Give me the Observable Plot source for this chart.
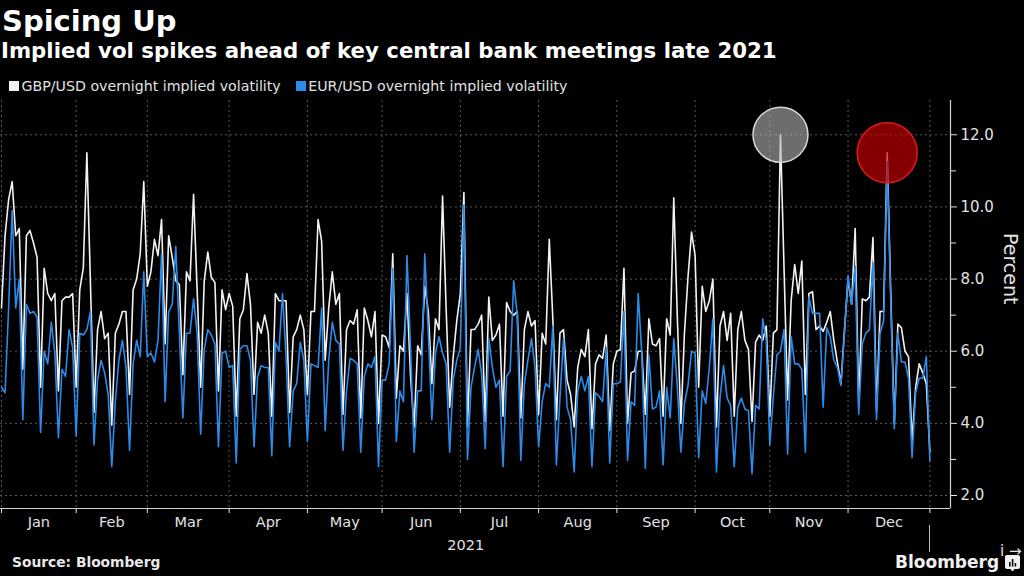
<!DOCTYPE html>
<html>
<head>
<meta charset="utf-8">
<script src="https://cdn.jsdelivr.net/npm/d3@7"></script>
<script src="https://cdn.jsdelivr.net/npm/@observablehq/plot@0.6"></script>
<style>
  html, body { margin: 0; padding: 0; background: #000; }
  body { width: 1024px; height: 576px; overflow: hidden; position: relative; color: #fff;
         font-family: "DejaVu Sans", sans-serif; }
  .abs { position: absolute; line-height: 1; white-space: nowrap; }
  #title { left: 2px; top: 7px; font-size: 29px; font-weight: bold; }
  #subtitle { left: 1px; top: 40px; font-size: 21.3px; font-weight: bold; }
  .lg { font-size: 14.2px; color: #e0e0e0; top: 79px; }
  .sw { position: absolute; width: 10px; height: 10px; top: 81px; }
  #chart { position: absolute; left: 0; top: 95px; }
  #source { left: 12px; top: 556px; font-size: 13.8px; font-weight: bold; color: #e8e8e8; }
  #brand { left: 895px; top: 554px; font-size: 17px; font-weight: bold; color: #f0f0f0; }
  #icon { position: absolute; left: 1005px; top: 555px; }
  #lastline { position: absolute; left: 929px; top: 525px; width: 1px; height: 27px; background: #bbb; }
</style>
</head>
<body>
<div id="title" class="abs"></div>
<div id="subtitle" class="abs"></div>
<div id="legend"></div>
<div id="chart"></div>
<div id="lastline"></div>
<div id="source" class="abs"></div>
<div id="brand" class="abs"></div>
<svg id="icon" width="15" height="17" viewBox="0 0 15 17"><rect x="0" y="0" width="15" height="14" rx="2" fill="#f0f0f0"/><path d="M5.5 14 L7.5 16.5 L9.5 14 Z" fill="#f0f0f0"/><rect x="4" y="7" width="1.6" height="4.5" fill="#000"/><rect x="6.8" y="4" width="1.6" height="7.5" fill="#000"/><rect x="9.6" y="8" width="1.6" height="3.5" fill="#000"/></svg>
<script>
// ---------- Text ----------
const titleText = "Spicing Up";
const subtitleText = "Implied vol spikes ahead of key central bank meetings late 2021";
const seriesNames = ["GBP/USD overnight implied volatility", "EUR/USD overnight implied volatility"];
const seriesColors = ["#f2f2f2", "#2a8be8"];
const sourceText = "Source: Bloomberg";
const brandText = "Bloomberg";
const yLabel = "Percent";
const yearLabel = "2021";

// ---------- Axis definitions ----------
const months = ["Jan","Feb","Mar","Apr","May","Jun","Jul","Aug","Sep","Oct","Nov","Dec"];
// trading-day index at which each month starts (last = end of December)
const monthStarts = [0, 21, 41, 64, 86, 107, 129, 151, 173, 195, 216, 238, 261];
const yTicks = [2, 4, 6, 8, 10, 12];
const yMinor = [3, 5, 7, 9, 11];

// ---------- Data (daily, trading days of 2021) ----------
const gbp = [
  7.2, 9.2, 10.2, 10.7, 9.2, 9.4, 5.5, 9.2, 9.35, 9.0,
  8.6, 5.0, 8.3, 7.6, 7.4, 7.6, 4.9, 7.4, 7.5, 7.5,
  7.6, 5.0, 7.7, 8.3, 11.5, 7.9, 4.3, 6.6, 7.1, 6.35,
  6.5, 3.95, 6.5, 6.75, 7.1, 7.1, 4.8, 7.7, 8.0, 8.7,
  10.7, 7.8, 8.2, 9.1, 8.65, 9.65, 6.2, 9.2, 8.6, 7.95,
  7.85, 5.35, 8.2, 7.95, 10.35, 7.7, 5.0, 7.95, 8.75, 8.05,
  7.9, 4.9, 7.7, 7.15, 7.6, 7.25, 4.2, 6.9, 7.15, 8.15,
  7.3, 4.8, 6.8, 6.5, 7.0, 6.5, 4.2, 7.6, 7.4, 7.4,
  7.4, 4.3, 6.4, 6.6, 7.0, 6.6, 4.8, 7.1, 7.1, 9.65,
  9.05, 5.75, 7.2, 8.2, 7.3, 7.6, 4.25, 6.6, 6.85, 6.75,
  7.15, 4.15, 7.2, 6.85, 6.4, 7.1, 4.0, 6.45, 6.4, 6.1,
  8.7, 4.7, 6.15, 6.0, 7.6, 5.3, 3.9, 6.15, 5.9, 7.8,
  7.1, 5.1, 6.9, 6.6, 10.3, 7.2, 4.45, 5.85, 6.85, 7.6,
  10.4, 3.9, 6.6, 6.6, 6.75, 7.0, 4.05, 7.5, 6.3, 6.45,
  6.75, 4.2, 7.35, 7.1, 7.0, 7.1, 4.15, 6.6, 7.1, 6.7,
  6.85, 4.25, 6.5, 6.2, 9.1, 6.9, 4.1, 6.5, 6.6, 5.2,
  4.8, 3.9, 5.55, 6.05, 5.85, 6.6, 3.85, 5.65, 5.9, 5.8,
  6.45, 3.8, 5.65, 6.0, 6.05, 8.3, 4.0, 5.4, 5.45, 6.0,
  6.0, 4.25, 6.9, 6.2, 6.15, 6.35, 4.2, 6.9, 6.45, 10.25,
  6.95, 4.0, 6.5, 8.05, 9.3, 8.65, 5.0, 7.8, 7.1, 7.4,
  8.0, 3.9, 6.7, 7.1, 6.3, 7.05, 4.2, 6.6, 7.1, 6.3,
  6.05, 4.05, 6.25, 6.45, 6.3, 6.7, 4.2, 6.5, 6.6, 12.0,
  8.3, 4.65, 7.4, 8.4, 7.6, 8.5, 4.8, 7.6, 7.65, 6.6,
  6.7, 6.55, 6.8, 7.1, 6.3, 5.7, 5.1, 6.6, 8.0, 7.3,
  9.4, 4.5, 7.45, 7.4, 7.5, 9.15, 4.35, 7.1, 7.1, 11.5,
  7.6, 4.0, 6.75, 6.65, 6.0, 5.85, 3.5, 5.0, 5.65, 5.4,
  5.1, 3.2
];
const eur = [
  5.0, 4.85, 7.2, 9.9, 7.2, 8.0, 4.1, 7.3, 7.05, 7.1,
  6.95, 3.75, 6.0, 5.65, 6.8, 5.95, 3.6, 5.5, 5.3, 6.6,
  6.1, 3.65, 6.5, 6.45, 6.6, 7.1, 3.4, 5.2, 5.75, 5.4,
  4.8, 2.8, 4.6, 5.75, 6.3, 5.55, 3.25, 5.65, 6.3, 5.85,
  8.2, 5.85, 5.95, 5.7, 6.3, 8.7, 4.6, 7.1, 7.3, 8.9,
  6.5, 4.15, 6.5, 6.5, 7.45, 6.5, 3.7, 6.05, 6.6, 6.45,
  6.2, 3.35, 5.95, 6.0, 5.55, 5.6, 2.9, 6.05, 6.15, 6.15,
  5.75, 3.35, 5.3, 5.6, 5.55, 5.55, 3.1, 6.25, 6.0, 7.6,
  5.85, 3.35, 4.9, 5.1, 6.25, 5.75, 3.5, 5.65, 5.6, 5.55,
  7.2, 3.8, 5.75, 6.8, 6.3, 6.2, 3.25, 4.9, 5.8, 5.75,
  5.65, 3.2, 5.3, 5.65, 5.55, 5.85, 2.8, 5.2, 5.2, 5.65,
  8.3, 3.5, 4.9, 4.6, 8.65, 6.1, 3.2, 4.9, 4.9, 8.7,
  6.5, 4.1, 5.95, 6.4, 5.95, 5.65, 3.2, 5.2, 5.75, 6.1,
  10.05, 3.0, 5.0, 5.55, 6.05, 5.35, 3.3, 6.35, 5.55, 5.0,
  5.2, 2.8, 5.3, 5.45, 7.95, 7.0, 2.97, 5.1, 5.75, 6.35,
  5.55, 3.35, 4.6, 5.1, 5.0, 6.7, 2.85, 4.7, 6.35, 4.45,
  4.1, 2.65, 4.9, 5.3, 4.9, 5.3, 2.8, 4.85, 4.75, 4.6,
  6.1, 2.9, 5.1, 5.1, 5.15, 7.1, 2.97, 4.6, 4.5, 7.6,
  5.95, 2.75, 5.9, 4.4, 4.45, 4.9, 2.85, 5.0, 4.15, 6.35,
  5.0, 3.2, 4.55, 5.05, 6.0, 5.95, 3.05, 4.9, 4.55, 5.55,
  6.9, 2.65, 4.7, 5.6, 4.7, 4.5, 2.8, 4.45, 4.7, 4.4,
  4.35, 2.6, 4.5, 4.4, 6.9, 6.3, 3.4, 4.75, 5.9, 6.0,
  6.6, 3.15, 6.4, 5.65, 5.65, 5.5, 3.2, 7.5, 7.05, 7.05,
  7.05, 4.45, 6.65, 6.4, 5.75, 5.55, 5.05, 6.5, 8.1, 7.3,
  8.35, 4.25, 6.2, 6.5, 6.6, 8.45, 4.1, 6.5, 6.85, 11.25,
  7.4, 3.85, 6.5, 5.7, 5.7, 5.25, 3.05, 4.85, 5.25, 5.25,
  5.85, 2.95
];

// ---------- Header / footer ----------
document.getElementById("title").textContent = titleText;
document.getElementById("subtitle").textContent = subtitleText;
const legend = document.getElementById("legend");
let lx = 9;
seriesNames.forEach((n, k) => {
  const sw = document.createElement("div"); sw.className = "sw";
  sw.style.left = lx + "px"; sw.style.background = seriesColors[k];
  legend.appendChild(sw);
  const tx = document.createElement("div"); tx.className = "abs lg";
  tx.style.left = (lx + 12.5) + "px"; tx.textContent = n;
  legend.appendChild(tx);
  lx = lx + 12.5 + tx.getBoundingClientRect().width + 15;
});
document.getElementById("source").textContent = sourceText;
document.getElementById("brand").textContent = brandText;

// ---------- Chart ----------
const data = gbp.map((v, i) => ({i, gbp: v, eur: eur[i]}));
const xDomain = [-0.28, 266.8];
const yDomain = [1.64, 12.95];

let gMax = 0; gbp.forEach((v, i) => { if (v > gbp[gMax]) gMax = i; });
let rMax = monthStarts[11]; for (let i = monthStarts[11]; i < gbp.length; i++) if (gbp[i] > gbp[rMax]) rMax = i;
const grayPeak = [{i: gMax, v: gbp[gMax]}];
const redPeak = [{i: rMax, v: gbp[rMax]}];

const monthMid = months.map((m, k) => (monthStarts[k] + monthStarts[k + 1]) / 2);
const FONT = '"DejaVu Sans", sans-serif';

const chart = Plot.plot({
  width: 1024, height: 463,
  marginTop: 5, marginBottom: 50, marginLeft: 0, marginRight: 74,
  style: {background: "transparent", color: "#e2e2e2", fontFamily: FONT, fontSize: "15px", overflow: "visible"},
  x: {domain: xDomain, axis: null},
  y: {domain: yDomain, axis: null},
  marks: [
    Plot.ruleY(yTicks, {stroke: "#5a5a5a", strokeDasharray: "2,3"}),
    Plot.ruleX(monthStarts, {stroke: "#5a5a5a", strokeDasharray: "2,3"}),
    Plot.line(data, {x: "i", y: "gbp", stroke: seriesColors[0], strokeWidth: 1.6}),
    Plot.line(data, {x: "i", y: "eur", stroke: seriesColors[1], strokeWidth: 1.6}),
    Plot.dot(grayPeak, {x: "i", y: "v", r: 27.5, fill: "#b5b5b5", fillOpacity: 0.6, stroke: "#d8d8d8", strokeWidth: 1.5}),
    Plot.dot(redPeak, {x: "i", y: "v", r: 30, fill: "#c80000", fillOpacity: 0.66, stroke: "#e01818", strokeWidth: 1.5}),
    Plot.ruleX([xDomain[1]], {stroke: "#cfcfcf", strokeWidth: 1.2}),
    Plot.ruleY([yDomain[0]], {stroke: "#cfcfcf", strokeWidth: 1.2}),
    Plot.axisY(yTicks, {anchor: "right", tickSize: 6, tickPadding: 4, tickFormat: d => d.toFixed(1), fontSize: 15}),
    Plot.axisY(yMinor, {anchor: "right", tickSize: 5, tickFormat: () => ""}),
    Plot.axisX(monthStarts, {anchor: "bottom", tickSize: 5, tickFormat: () => ""}),
    Plot.text(months, {x: (d, k) => monthMid[k], text: d => d, frameAnchor: "bottom", dy: 18, lineAnchor: "bottom", fontSize: 14.5, fill: "#e2e2e2"}),
    Plot.text([yearLabel], {x: (monthStarts[0] + monthStarts[12]) / 2, text: d => d, frameAnchor: "bottom", dy: 41, lineAnchor: "bottom", fontSize: 14.5, fill: "#e2e2e2"}),
    Plot.text([yLabel], {text: d => d, frameAnchor: "right", dx: 60, rotate: 90, fontSize: 19, fill: "#e2e2e2"})
  ]
});
document.getElementById("chart").appendChild(chart);
</script>
</body>
</html>
